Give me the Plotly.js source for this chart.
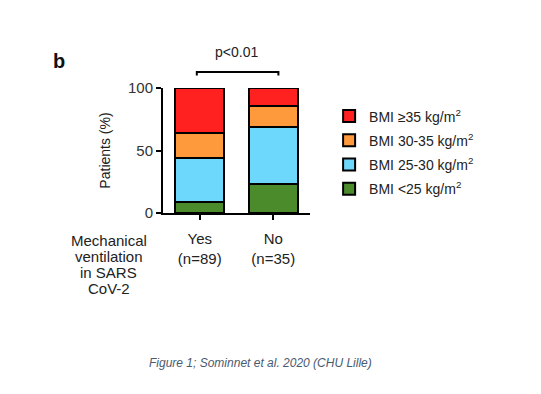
<!DOCTYPE html>
<html><head><meta charset="utf-8">
<script src="https://cdn.plot.ly/plotly-3.0.1.min.js"></script>
<style>html,body{margin:0;padding:0;background:#fff}#chart{width:541px;height:394px}</style>
</head><body><div id="chart"></div>
<script>
// Data (percent of patients in each group)
var groups = ['Yes', 'No'];
var groupLabels = ['Yes<br>(n=89)', 'No<br>(n=35)'];
var seriesNames = ['BMI <25 kg/m<sup>2</sup>', 'BMI 25-30 kg/m<sup>2</sup>', 'BMI 30-35 kg/m<sup>2</sup>', 'BMI \u226535 kg/m<sup>2</sup>'];
var bmiUnder25 = [9, 22.9];
var bmi25to30 = [35, 45.7];
var bmi30to35 = [20, 17.1];
var bmiOver35 = [36, 14.3];
var seriesValues = [bmiUnder25, bmi25to30, bmi30to35, bmiOver35];
var seriesColors = ['#4b8b2b', '#6dd8fb', '#ff9a3c', '#ff2020'];
var yTicks = [0, 50, 100];

var font = 'Liberation Sans, Arial, sans-serif';
var traces = seriesValues.map(function (vals, i) {
  return {
    type: 'bar', x: groups, y: vals, name: seriesNames[i],
    legendgroup: 'g' + i, legendrank: 10 - i,
    marker: {color: seriesColors[i], line: {color: '#000', width: 2}},
    width: 0.67, hoverinfo: 'skip'
  };
});

var layout = {
  width: 541, height: 394,
  margin: {l: 163, r: 231, t: 88, b: 181, pad: 0},
  paper_bgcolor: '#fff', plot_bgcolor: '#fff',
  barmode: 'stack',
  font: {family: font, size: 15, color: '#222'},
  showlegend: true,
  legend: {x: 1.13, y: 0.90, xanchor: 'left', yanchor: 'top',
    traceorder: 'grouped', tracegroupgap: 3,
    font: {family: font, size: 14, color: '#222'}, bgcolor: 'rgba(0,0,0,0)'},
  xaxis: {
    type: 'category', range: [-0.5, 1.5],
    tickvals: groups, ticktext: groupLabels,
    showline: true, linecolor: '#000', linewidth: 2,
    ticks: 'outside', ticklen: 5, tickwidth: 2, tickcolor: '#000',
    ticklabelstandoff: 6,
    showgrid: false, zeroline: false, fixedrange: true,
    tickfont: {family: font, size: 15, color: '#222'}
  },
  yaxis: {
    range: [0, 100], tickvals: yTicks,
    showline: true, linecolor: '#000', linewidth: 2,
    ticks: 'outside', ticklen: 5, tickwidth: 2, tickcolor: '#000',
    showgrid: false, zeroline: false, fixedrange: true,
    tickfont: {family: font, size: 15, color: '#333'},
    title: {text: 'Patients (%)', standoff: 14, font: {family: font, size: 14, color: '#222'}}
  },
  shapes: [
    {type: 'path', xref: 'x', yref: 'paper', path: 'M -0.04,1.1 L -0.04,1.128 L 1.07,1.128 L 1.07,1.1',
      line: {color: '#000', width: 2}}
  ],
  annotations: [
    {text: '<b>b</b>', xref: 'paper', yref: 'paper', x: -0.71, y: 1.22, xanchor: 'center', yanchor: 'middle',
      showarrow: false, font: {family: font, size: 20, color: '#111'}},
    {text: 'p<0.01', xref: 'x', yref: 'paper', x: 0.5, y: 1.29, xanchor: 'center', yanchor: 'middle',
      showarrow: false, font: {family: font, size: 14, color: '#222'}},
    {text: 'Mechanical', xref: 'paper', yref: 'paper', x: -0.37, y: -0.22, xanchor: 'center', yanchor: 'middle', showarrow: false},
    {text: 'ventilation', xref: 'paper', yref: 'paper', x: -0.37, y: -0.348, xanchor: 'center', yanchor: 'middle', showarrow: false},
    {text: 'in SARS', xref: 'paper', yref: 'paper', x: -0.37, y: -0.476, xanchor: 'center', yanchor: 'middle', showarrow: false},
    {text: 'CoV-2', xref: 'paper', yref: 'paper', x: -0.37, y: -0.604, xanchor: 'center', yanchor: 'middle', showarrow: false},
    {text: '<i>Figure 1; Sominnet et al. 2020 (CHU Lille)</i>', xref: 'paper', yref: 'paper', x: 0.66, y: -1.2,
      xanchor: 'center', yanchor: 'middle', showarrow: false,
      font: {family: font, size: 12, color: '#4a5a70'}}
  ]
};

Plotly.newPlot('chart', traces, layout, {displayModeBar: false, staticPlot: true});
</script></body></html>
